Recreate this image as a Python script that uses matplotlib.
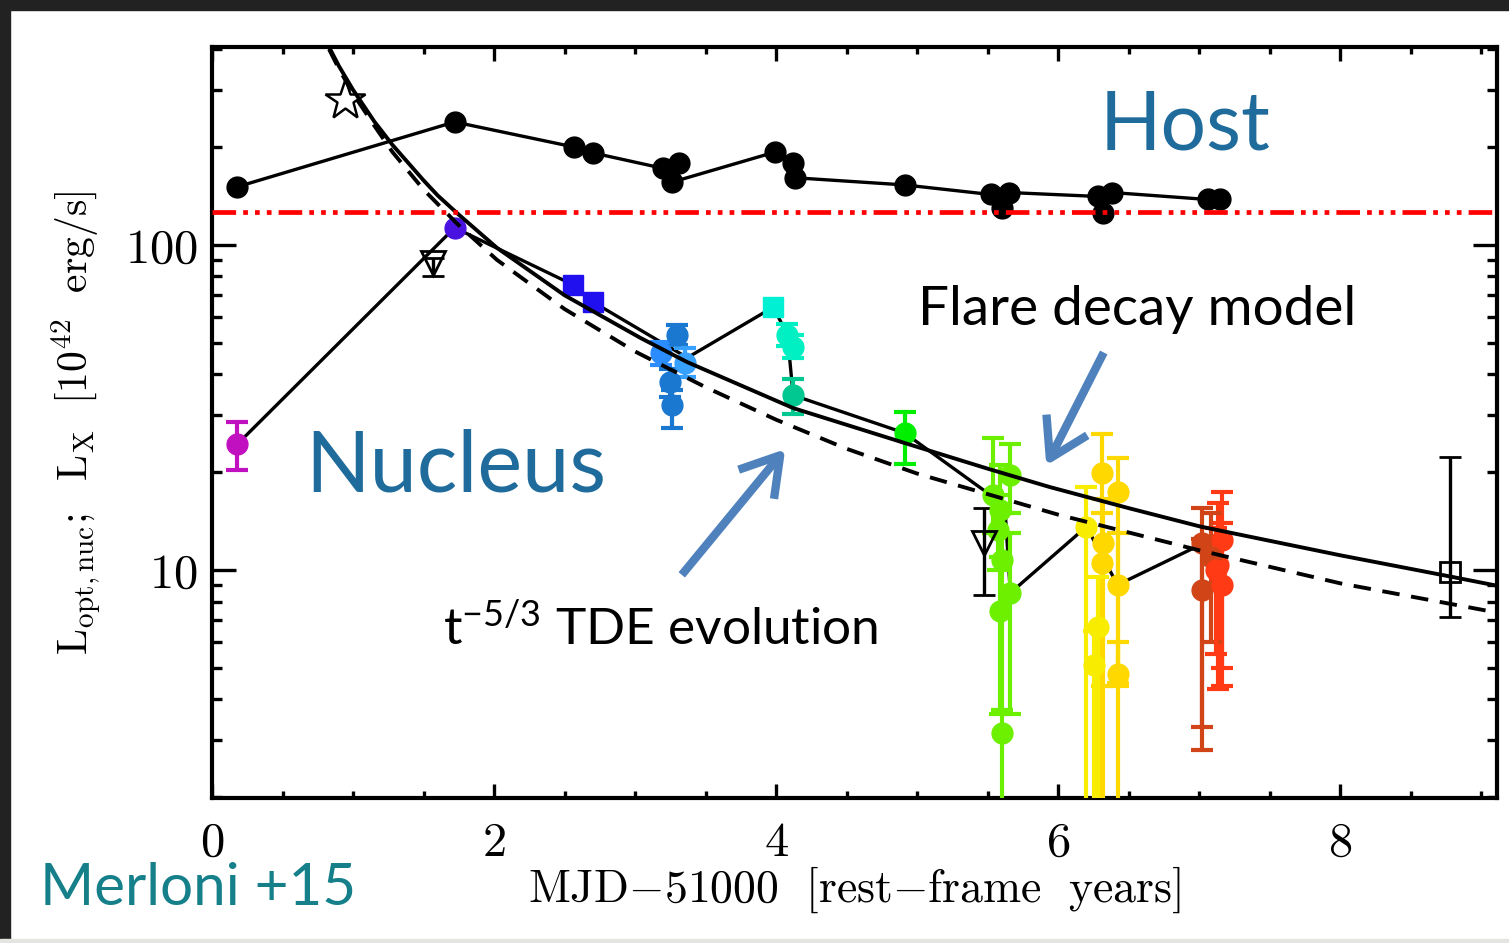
import matplotlib
matplotlib.use("Agg")
import matplotlib.pyplot as plt
from matplotlib.patches import Rectangle, FancyArrowPatch
from matplotlib.ticker import FixedLocator, FixedFormatter, MultipleLocator, NullFormatter

plt.rcParams['mathtext.fontset'] = 'cm'
plt.rcParams['font.family'] = ['Lato', 'DejaVu Sans']

# host galaxy (black circles)
host_t = [0.18, 1.72, 2.57, 2.70, 3.20, 3.31, 3.26, 3.99, 4.12, 4.13, 4.91,
          5.52, 5.60, 5.65, 6.28, 6.32, 6.38, 7.06, 7.15]
host_L = [151, 239, 200, 192, 172, 179, 156, 193, 179, 161, 153,
          143, 130, 145, 141, 125, 145, 138, 138]

# host level (red dash-dot-dot line)
host_level = 126

# flare decay model (solid) and t^-5/3 (dashed)
model_t = [0.83, 0.9, 1.0, 1.15, 1.28, 1.5, 1.6, 1.74, 2.02, 2.5, 3.04, 3.37,
           4.12, 4.91, 5.5, 5.94, 6.5, 7.01, 8.0, 8.78, 9.11]
flare_L = [406, 355, 300, 240, 203, 158, 142, 125, 98, 70, 51.7, 43.6,
           31.5, 24.6, 20.5, 18.0, 15.5, 13.6, 11.1, 9.55, 8.95]
tde_t = [0.83, 0.9, 1.0, 1.15, 1.28, 1.5, 1.74, 2.02, 2.5, 3.0, 3.5,
         4.0, 4.5, 5.0, 6.0, 7.0, 8.0, 9.11]
tde_L = [400, 348, 292, 233, 193, 148, 116, 90, 63.5, 47, 36.5,
         29, 23.6, 19.8, 14.8, 11.5, 9.1, 7.4]

# nucleus light curve connecting line
nuc_t = [0.18, 1.72, 2.56, 2.70, 3.37, 3.98, 4.08, 4.12, 4.91, 5.52, 5.62, 5.66,
         6.20, 6.42, 6.98]
nuc_L = [24.4, 113, 75.4, 66.8, 45, 64.4, 52.8, 34.5, 26.4, 17.0, 16.0, 8.5,
         13.6, 9.0, 11.8]

# nucleus points: value, lower and upper end of error bar
mag_t, mag_L, mag_lo, mag_hi = [0.18], [24.4], [20.3], [28.5]
pur_t, pur_L = [1.72], [113]
bsq_t, bsq_L = [2.56, 2.70], [75.4, 66.8]
blu_t = [3.30, 3.18, 3.35, 3.25, 3.26]
blu_L = [52.8, 46.6, 43.4, 37.9, 32.2]
blu_lo = [49.3, 42.7, 39.3, 34.0, 27.4]
blu_hi = [56.8, 50.3, 48.2, 41.5, 35.8]
csq_t, csq_L = [3.98], [64.4]
cya_t, cya_L, cya_lo, cya_hi = [4.08, 4.12], [52.8, 48.6], [49.0, 45.0], [57.0, 53.0]
tea_t, tea_L, tea_lo, tea_hi = [4.12], [34.5], [30.1], [38.8]
grn_t, grn_L, grn_lo, grn_hi = [4.91], [26.4], [21.2], [30.6]
lim_t = [5.54, 5.66, 5.59, 5.57, 5.60, 5.66, 5.59, 5.60]
lim_L = [17.0, 19.6, 15.3, 13.3, 10.7, 8.5, 7.5, 3.15]
lim_lo = [13.0, 15.0, 11.0, 10.0, 3.7, 3.6, 3.6, 1.0]
lim_hi = [25.5, 24.4, 21.0, 17.0, 15.0, 13.0, 11.0, 3.7]
yel_t = [6.31, 6.42, 6.20, 6.32, 6.31, 6.42, 6.28, 6.25, 6.42]
yel_L = [19.9, 17.4, 13.6, 12.1, 10.5, 9.0, 6.7, 5.1, 4.8]
yel_lo = [1.0, 1.0, 1.0, 1.0, 4.4, 4.5, 1.0, 1.0, 4.4]
yel_hi = [26.2, 22.1, 18.0, 16.5, 15.0, 13.0, 9.5, 6.5, 6.0]
red_t = [7.02, 7.16, 7.13, 7.02, 7.16, 7.08, 7.12]
red_L = [12.1, 12.4, 10.4, 8.7, 9.0, 11.0, 10.0]
red_lo = [3.3, 4.4, 4.3, 2.8, 5.0, 6.0, 5.5]
red_hi = [15.5, 17.4, 16.1, 12.5, 14.0, 15.0, 13.5]

# open symbols
star_t, star_L = [0.94], [279]
tri_t, tri_L, tri_lo, tri_hi = [1.57, 5.47], [88, 12.1], [80, 8.4], [91, 15.5]
osq_t, osq_L, osq_lo, osq_hi = [8.78], [9.86], [7.16], [22.3]


def errs(L, lo, hi):
    return [[v - l for v, l in zip(L, lo)], [h - v for v, h in zip(L, hi)]]


fig = plt.figure(figsize=(15.09, 9.43), dpi=100)
ax = fig.add_axes([0.1405, 0.1538, 0.8515, 0.7962])

ms = 15
eb = dict(capsize=8, elinewidth=3, capthick=3, ls='none')

ax.plot(host_t, host_L, '-', color='black', lw=2.4, marker='o', ms=ms, zorder=3)
ax.plot(nuc_t, nuc_L, '-', color='black', lw=2.4, zorder=2)

ax.errorbar(mag_t, mag_L, yerr=errs(mag_L, mag_lo, mag_hi), color='#c010c0',
            marker='o', ms=ms, **eb, zorder=4)
ax.plot(pur_t, pur_L, 'o', color='#4a12e0', ms=ms, zorder=4)
ax.plot(bsq_t, bsq_L, 's', color='#2010f0', ms=ms - 1, zorder=4)
blu_cols = ['#1a78d0', '#2a8cff', '#38a0ff', '#1a78d0', '#1a78d0']
for i in range(len(blu_t)):
    ax.errorbar([blu_t[i]], [blu_L[i]],
                yerr=errs([blu_L[i]], [blu_lo[i]], [blu_hi[i]]),
                color=blu_cols[i], marker='o', ms=ms, **eb, zorder=4)
ax.plot(csq_t, csq_L, 's', color='#00f0d4', ms=ms - 1, zorder=4)
ax.errorbar(cya_t, cya_L, yerr=errs(cya_L, cya_lo, cya_hi), color='#00f0c4',
            marker='o', ms=ms, **eb, zorder=4)
ax.errorbar(tea_t, tea_L, yerr=errs(tea_L, tea_lo, tea_hi), color='#00c890',
            marker='o', ms=ms, **eb, zorder=4)
ax.errorbar(grn_t, grn_L, yerr=errs(grn_L, grn_lo, grn_hi), color='#00ee00',
            marker='o', ms=ms, **eb, zorder=4)
ax.errorbar(lim_t, lim_L, yerr=errs(lim_L, lim_lo, lim_hi), color='#6cf000',
            marker='o', ms=ms, **eb, zorder=4)
yel_cols = ['#ffd800', '#ffd800', '#f8ec00', '#ffd800', '#ffd800', '#ffd800',
            '#f8ec00', '#f8ec00', '#ffd800']
red_cols = ['#d04418', '#ff3a14', '#ff3a14', '#d04418', '#ff3a14', '#d04418', '#ff3a14']
for i in range(len(yel_t)):
    ax.errorbar([yel_t[i]], [yel_L[i]], yerr=errs([yel_L[i]], [yel_lo[i]], [yel_hi[i]]),
                color=yel_cols[i], marker='o', ms=ms, **eb, zorder=4)
for i in range(len(red_t)):
    ax.errorbar([red_t[i]], [red_L[i]], yerr=errs([red_L[i]], [red_lo[i]], [red_hi[i]]),
                color=red_cols[i], marker='o', ms=ms, **eb, zorder=4)

ax.plot(star_t, star_L, '*', mfc='white', mec='black', mew=1.8, ms=30, zorder=4)
ax.errorbar(tri_t, tri_L, yerr=errs(tri_L, tri_lo, tri_hi), color='black', marker='v',
            mfc='none', mec='black', mew=2, ms=17, capsize=8, elinewidth=2.4, capthick=2.4,
            ls='none', zorder=4)
ax.errorbar(osq_t, osq_L, yerr=errs(osq_L, osq_lo, osq_hi), color='black', marker='s',
            mfc='none', mec='black', mew=2, ms=15, capsize=8, elinewidth=2.4, capthick=2.4,
            ls='none', zorder=4)

ax.plot(model_t, flare_L, '-', color='black', lw=2.8, zorder=5)
ax.plot(tde_t, tde_L, '--', color='black', lw=2.8, dashes=(4.5, 3), zorder=5)
ax.axhline(host_level, color='#ff0000', lw=3.4, dashes=(5, 1.5, 1, 1.5, 1, 1.5, 1, 1.5), zorder=6)

ax.set_yscale('log')
ax.set_xlim(0, 9.11)
ax.set_ylim(1.99, 406)

ax.xaxis.set_major_locator(FixedLocator([0, 2, 4, 6, 8]))
ax.xaxis.set_major_formatter(FixedFormatter(['$0$', '$2$', '$4$', '$6$', '$8$']))
ax.xaxis.set_minor_locator(MultipleLocator(0.5))
ax.yaxis.set_major_locator(FixedLocator([10, 100]))
ax.yaxis.set_major_formatter(FixedFormatter(['$10$', '$100$']))
ax.yaxis.set_minor_locator(FixedLocator([2, 3, 4, 5, 6, 7, 8, 9, 20, 30, 40, 50, 60, 70,
                                         80, 90, 200, 300, 400]))
ax.yaxis.set_minor_formatter(NullFormatter())

ax.tick_params(axis='both', which='both', direction='in', top=True, right=True,
               width=2.4, labelsize=35, colors='black')
ax.tick_params(axis='x', which='major', length=10, pad=16)
ax.tick_params(axis='x', which='minor', length=5)
ax.tick_params(axis='y', which='major', length=17, pad=10)
ax.tick_params(axis='y', which='minor', length=7.5)
for s in ax.spines.values():
    s.set_linewidth(3)

ax.set_xlabel(r'$\mathrm{MJD{-}51000\ \ [rest{-}frame\ \ years]}$', fontsize=33, labelpad=0)
ax.set_ylabel(r'$\mathrm{L_{opt,nuc};\ \ L_X\ \ [10^{42}\ \ erg/s]}$', fontsize=30, labelpad=16)

W, H = 1509, 943


def fx(px):
    return px / W


def fy(py):
    return 1 - py / H


# annotations
fig.text(fx(1100), fy(150), 'Host', color='#1f6b9c', fontsize=58)
fig.text(fx(305), fy(492), 'Nucleus', color='#1f6b9c', fontsize=61)
fig.text(fx(918), fy(325), 'Flare decay model', color='black', fontsize=39.5)
fig.text(fx(443), fy(645), r'$\mathregular{t^{-5/3}}$ TDE evolution', color='black', fontsize=37)
fig.text(fx(40), fy(905), 'Merloni +15', color='#16808a', fontsize=42)

for tail, tip in [((1105, 350), (1045, 468)), ((680, 577), (787, 447))]:
    arr = FancyArrowPatch((fx(tail[0]), fy(tail[1])), (fx(tip[0]), fy(tip[1])),
                          transform=fig.transFigure, arrowstyle='->,head_length=0.9,head_width=0.55',
                          mutation_scale=30, lw=6, color='#4f81bd', capstyle='butt')
    fig.add_artist(arr)

# dark frame of the slide
fig.add_artist(Rectangle((0, fy(10)), 1, 10 / H, transform=fig.transFigure,
                         color='#222222', zorder=10))
fig.add_artist(Rectangle((0, 0), 10 / W, 1, transform=fig.transFigure,
                         color='#222222', zorder=10))
fig.add_artist(Rectangle((0, 0), 1, 4 / H, transform=fig.transFigure,
                         color='#e4e4e0', zorder=10))

fig.savefig('out.png', dpi=100)
